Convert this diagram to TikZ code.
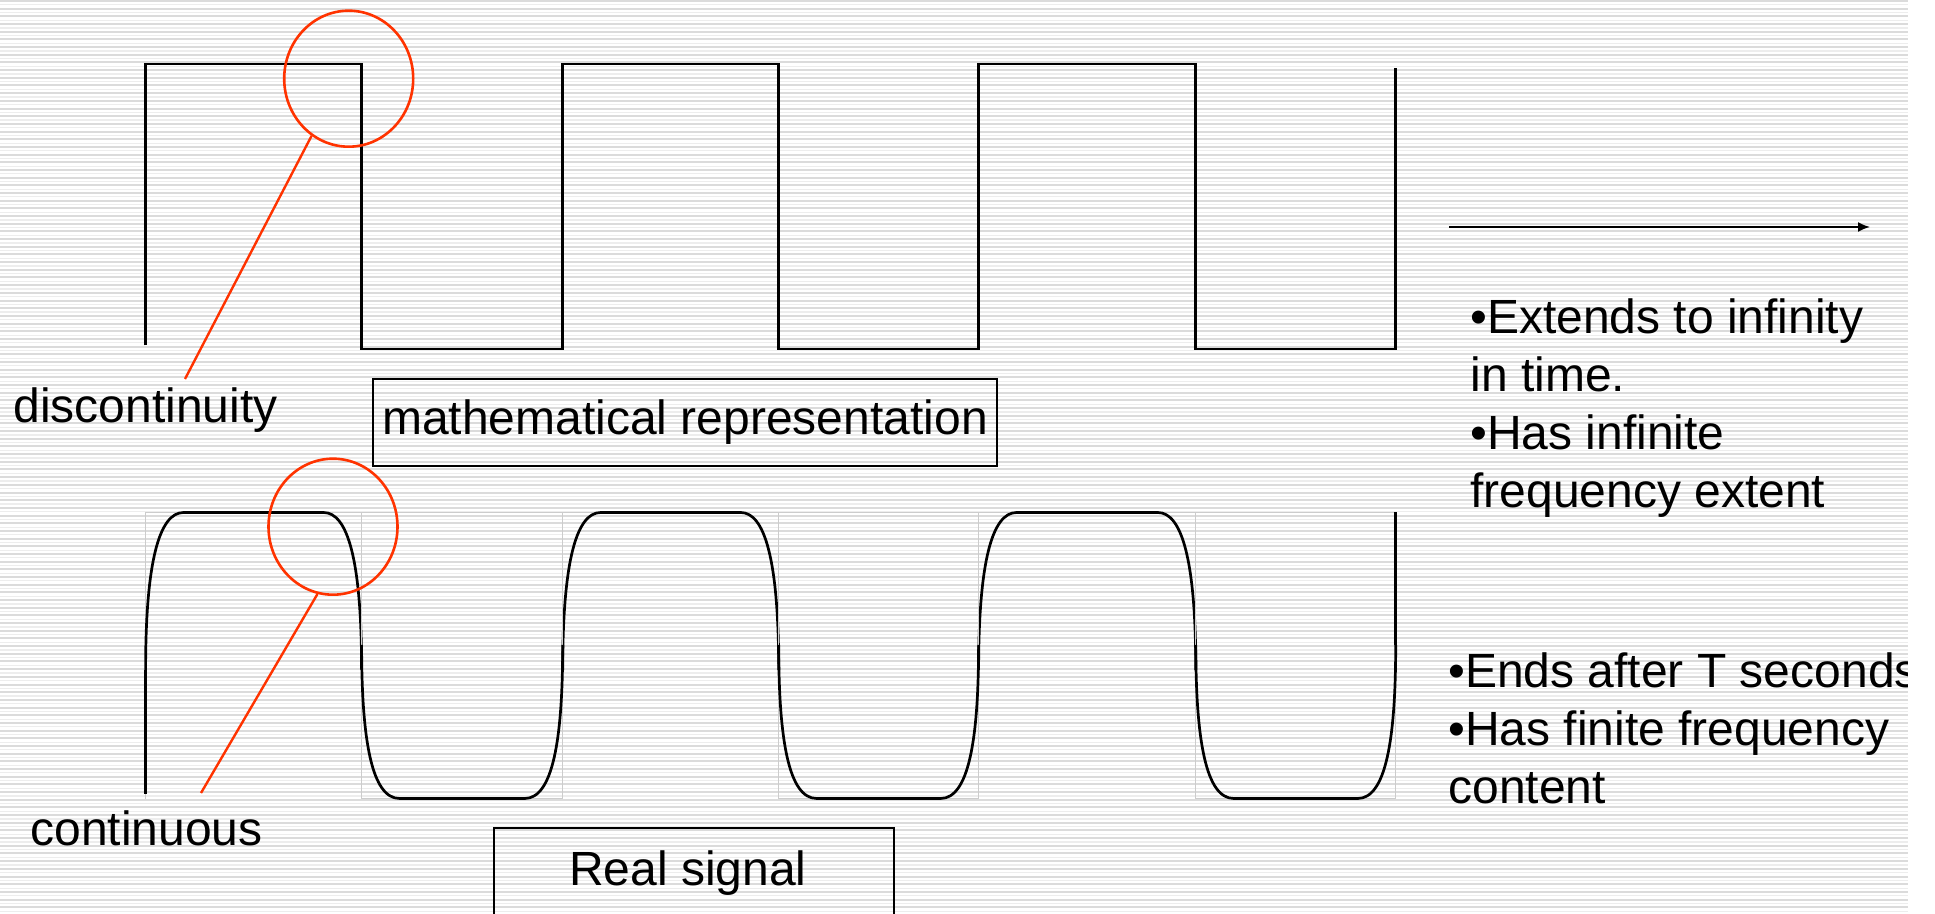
\documentclass[tikz,border=0pt]{standalone}
\usepackage{fontspec}
\setmainfont{Liberation Sans}
\usetikzlibrary{shapes.geometric,arrows.meta}
\definecolor{callred}{HTML}{FF3300}
\tikzset{
  wave/.style={line width=1.35pt},
  ghost/.style={draw=gray!40, line width=0.5pt},
  ring/.style={ellipse, draw=callred, line width=1.3pt, inner sep=0pt,
    minimum width=64.5pt, minimum height=68pt},
  callout/.style={draw=callred, line width=1.2pt},
  tag/.style={draw, line width=1pt, inner sep=0pt, font=\fontsize{24}{29}\selectfont},
  txt/.style={anchor=base west, inner sep=0pt, font=\fontsize{24}{29}\selectfont},
}
\def\sigtop{512.5}
\def\sigbot{798.5}

\begin{document}
\begin{tikzpicture}[x=0.5pt,y=-0.5pt]
  \useasboundingbox (0,0) rectangle (1935,914);

  % striped background
  \foreach \k in {0,...,119} {
    \fill[gray!28] (0,{\k*7.68}) rectangle (1908,{\k*7.68+2});
    \fill[gray!14] (0,{\k*7.68+4.3}) rectangle (1908,{\k*7.68+5.5});
  }

  % mathematical square wave
  \draw[wave] (145.6,345.5) -- (145.6,64) -- (361.6,64) -- (361.6,349) -- (562.7,349)
    -- (562.7,64) -- (778.7,64) -- (778.7,349) -- (978.6,349) -- (978.6,64)
    -- (1195.8,64) -- (1195.8,349) -- (1395.7,349) -- (1395.7,68);

  % real signal
  \foreach \a/\b in {145.6/361.6, 562.7/778.7, 978.6/1195.8} {
    \draw[ghost] (\a,\sigbot) -- (\a,\sigtop) -- (\b,\sigtop) -- (\b,\sigbot);
    \draw[wave] (\a,670) .. controls (\a,560) and (\a+14,\sigtop) .. (\a+38,\sigtop)
      -- (\b-38,\sigtop) .. controls (\b-14,\sigtop) and (\b,560) .. (\b,670);
  }
  \foreach \a/\b in {361.6/562.7, 778.7/978.6, 1195.8/1395.7} {
    \draw[ghost] (\a,\sigtop) rectangle (\b,\sigbot);
    \draw[wave] (\a,645) .. controls (\a,740) and (\a+10,\sigbot) .. (\a+38,\sigbot)
      -- (\b-38,\sigbot) .. controls (\b-10,\sigbot) and (\b,740) .. (\b,645);
  }
  \draw[wave] (145.6,793.5) -- (145.6,670);
  \draw[wave] (1395.7,645) -- (1395.7,\sigtop);

  % callouts
  \node[ring] (gap) at (348.7,78.7) {};
  \node[ring] (smooth) at (333,526.7) {};
  \node[txt] (disc) at (13,422.7) {discontinuity};
  \node[txt] (cont) at (30,845) {continuous};
  \coordinate (disc-end) at (185,379);
  \coordinate (cont-end) at (201,793);
  \draw[callout] (gap.-123) -- (disc-end);
  \draw[callout] (smooth.-103) -- (cont-end);

  % boxed titles
  \node[tag, minimum width=312pt, minimum height=43.5pt] (math-box) at (685,422.5) {mathematical representation};
  \node[tag, anchor=north west, minimum width=200.3pt, minimum height=60pt] (real-box) at (492.7,826.7) {};
  \node[txt, anchor=base] (real-txt) at (688,885) {Real signal};

  % time axis
  \coordinate (time-a) at (1449,227);
  \coordinate (time-b) at (1870,227);
  \draw[-{Latex[length=6pt,width=5pt]}, line width=0.9pt] (time-a) -- (time-b);

  \foreach \line [count=\i] in {•Extends to infinity, in time., •Has infinite, frequency extent}
    \node[txt] (ext-\i) at (1470,{334+58*(\i-1)}) {\line};
  \foreach \line [count=\i] in {•Ends after T seconds, •Has finite frequency, content}
    \node[txt] (fin-\i) at (1448,{688+58*(\i-1)}) {\line};

  \fill[white] (1908,0) rectangle (1935,914);
\end{tikzpicture}
\end{document}
